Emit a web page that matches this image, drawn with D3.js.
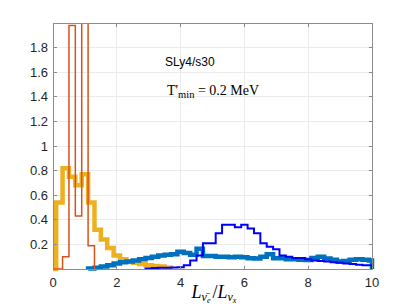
<!DOCTYPE html>
<html>
<head>
<meta charset="utf-8">
<script src="https://cdn.jsdelivr.net/npm/d3@7"></script>
<style>
  html, body { margin: 0; padding: 0; background: #fff; }
  svg { display: block; }
</style>
</head>
<body>
<script>
// ---- data ----
const binWidth = 0.2;
const xTicks = [0, 2, 4, 6, 8, 10];
const yTicks = [0.2, 0.4, 0.6, 0.8, 1.0, 1.2, 1.4, 1.6, 1.8];
const yTickLabels = ["0.2", "0.4", "0.6", "0.8", "1", "1.2", "1.4", "1.6", "1.8"];

// yellow thick histogram: bin centres and heights
const yellowCenters = [0, 0.2, 0.4, 0.6, 0.8, 1.0, 1.2, 1.4, 1.6, 1.8, 2.0, 2.2, 2.4, 2.6, 2.8, 3.0, 3.2, 3.4, 3.6];
const yellowValues  = [0, 0.54, 0.82, 0.75, 0.68, 0.77, 0.54, 0.32, 0.24, 0.17, 0.11, 0.08, 0.06, 0.05, 0.04, 0.03, 0.025, 0.02, 0.01];

// orange thin histogram
const orangeCenters = [0, 0.2, 0.4, 0.6, 0.8, 1.0, 1.2];
const orangeValues  = [0, 0, 0.10, 1.98, 0.43, 2.6, 0.19];

// light-blue thick histogram
const lblueCenters = [1.2, 1.4, 1.6, 1.8, 2.0, 2.2, 2.4, 2.6, 2.8, 3.0, 3.2, 3.4, 3.6, 3.8, 4.0, 4.2, 4.4, 4.6, 4.8, 5.0,
                      5.2, 5.4, 5.6, 5.8, 6.0, 6.2, 6.4, 6.6, 6.8, 7.0, 7.2, 7.4, 7.6, 7.8, 8.0, 8.2, 8.4, 8.6, 8.8, 9.0,
                      9.2, 9.4, 9.6, 9.8, 10.0];
const lblueValues  = [0.005, 0.01, 0.02, 0.03, 0.045, 0.055, 0.06, 0.07, 0.08, 0.09, 0.10, 0.11, 0.115, 0.12, 0.14, 0.13, 0.115, 0.165, 0.105, 0.105,
                      0.10, 0.10, 0.095, 0.10, 0.095, 0.087, 0.085, 0.10, 0.12, 0.087, 0.087, 0.08, 0.08, 0.075, 0.073, 0.09, 0.10, 0.085, 0.075, 0.06,
                      0.065, 0.075, 0.08, 0.075, 0.07];

// dark-blue thin histogram
const dblueCenters = [3.0, 3.2, 3.4, 3.6, 3.8, 4.0, 4.2, 4.4, 4.6, 4.8, 5.0, 5.2, 5.4, 5.6, 5.8, 6.0, 6.2, 6.4, 6.6, 6.8,
                      7.0, 7.2, 7.4, 7.6, 7.8, 8.0, 8.2, 8.4, 8.6, 8.8, 9.0, 9.2, 9.4, 9.6, 9.8, 10.0];
const dblueValues  = [0.005, 0.008, 0.01, 0.01, 0.012, 0.015, 0.03, 0.07, 0.11, 0.21, 0.21, 0.29, 0.36, 0.36, 0.34, 0.36, 0.33, 0.29, 0.21, 0.18,
                      0.16, 0.11, 0.10, 0.09, 0.09, 0.08, 0.07, 0.065, 0.06, 0.055, 0.05, 0.045, 0.04, 0.035, 0.03, 0.03];

// ---- layout ----
const W = 411, H = 308;
const m = { left: 53, right: 372, top: 23, bottom: 269 };

const x = d3.scaleLinear().domain([0, 10]).range([m.left, m.right]);
const y = d3.scaleLinear().domain([0, 2]).range([m.bottom, m.top]);

const svg = d3.select("body").append("svg").attr("width", W).attr("height", H);

svg.append("defs").append("clipPath").attr("id", "clip")
  .append("rect").attr("x", m.left - 6).attr("y", m.top)
  .attr("width", m.right - m.left + 12).attr("height", m.bottom - m.top + 6);

// grid
const grid = svg.append("g");
grid.selectAll("line.gx").data(xTicks.filter(t => t > 0 && t < 10)).join("line")
  .attr("x1", d => x(d)).attr("x2", d => x(d)).attr("y1", m.top).attr("y2", m.bottom)
  .attr("stroke", "#ebebeb").attr("stroke-width", 1).attr("shape-rendering", "crispEdges");
grid.selectAll("line.gy").data(yTicks).join("line")
  .attr("x1", m.left).attr("x2", m.right).attr("y1", d => y(d)).attr("y2", d => y(d))
  .attr("stroke", "#ebebeb").attr("stroke-width", 1).attr("shape-rendering", "crispEdges");

// histogram path builder
function stairs(centers, values) {
  const pts = [];
  const lo = Math.max(0, centers[0] - binWidth / 2);
  pts.push([lo, 0]);
  centers.forEach((c, i) => {
    const a = Math.max(0, c - binWidth / 2), b = Math.min(10, c + binWidth / 2);
    pts.push([a, values[i]]);
    pts.push([b, values[i]]);
  });
  const hi = Math.min(10, centers[centers.length - 1] + binWidth / 2);
  pts.push([hi, 0]);
  return d3.line().x(d => x(d[0])).y(d => y(d[1]))(pts);
}

const plot = svg.append("g").attr("clip-path", "url(#clip)");
plot.append("path").attr("d", stairs(yellowCenters, yellowValues))
  .attr("fill", "none").attr("stroke", "#EDB120").attr("stroke-width", 4.5).attr("stroke-linejoin", "miter");
plot.append("path").attr("d", stairs(lblueCenters, lblueValues))
  .attr("fill", "none").attr("stroke", "#0072BD").attr("stroke-width", 4.5).attr("stroke-linejoin", "miter");
plot.append("path").attr("d", stairs(orangeCenters, orangeValues))
  .attr("fill", "none").attr("stroke", "#D95319").attr("stroke-width", 1.5);
plot.append("path").attr("d", stairs(dblueCenters, dblueValues))
  .attr("fill", "none").attr("stroke", "#0000FF").attr("stroke-width", 2);

// axes box
const axisColor = "#8c8c8c";
const ax = svg.append("g").attr("stroke", axisColor).attr("stroke-width", 1).attr("shape-rendering", "crispEdges");
ax.append("rect").attr("x", m.left).attr("y", m.top).attr("width", m.right - m.left).attr("height", m.bottom - m.top)
  .attr("fill", "none");
const tl = 3.5;
xTicks.forEach(t => {
  ax.append("line").attr("x1", x(t)).attr("x2", x(t)).attr("y1", m.bottom).attr("y2", m.bottom - tl);
  ax.append("line").attr("x1", x(t)).attr("x2", x(t)).attr("y1", m.top).attr("y2", m.top + tl);
});
yTicks.forEach(t => {
  ax.append("line").attr("x1", m.left).attr("x2", m.left + tl).attr("y1", y(t)).attr("y2", y(t));
  ax.append("line").attr("x1", m.right).attr("x2", m.right - tl).attr("y1", y(t)).attr("y2", y(t));
});

// tick labels
const fontSans = "'Liberation Sans', Arial, Helvetica, sans-serif";
svg.append("g").selectAll("text").data(xTicks).join("text")
  .attr("x", d => x(d)).attr("y", 287).attr("text-anchor", "middle")
  .attr("font-family", fontSans).attr("font-size", 13).attr("fill", "#262626")
  .text(d => d);
svg.append("g").selectAll("text").data(yTicks).join("text")
  .attr("x", 48).attr("y", d => y(d) + 4.6).attr("text-anchor", "end")
  .attr("font-family", fontSans).attr("font-size", 13).attr("fill", "#262626")
  .text((d, i) => yTickLabels[i]);

// annotations
svg.append("text").attr("x", 165).attr("y", 66)
  .attr("font-family", fontSans).attr("font-size", 12).attr("fill", "#000")
  .text("SLy4/s30");

const fontSerif = "'DejaVu Serif', 'Liberation Serif', 'Times New Roman', serif";
const fontSerif2 = "'Liberation Serif', 'Times New Roman', serif";
const tt = svg.append("text").attr("x", 167).attr("y", 95)
  .attr("font-family", fontSerif2).attr("font-size", 14).attr("fill", "#000");
tt.append("tspan").text("T'");
tt.append("tspan").attr("font-size", 10.5).attr("dy", 2.5).text("min");
tt.append("tspan").attr("dy", -2.5).text(" = 0.2 MeV");

// x label
const xl = svg.append("text").attr("x", 214).attr("y", 298).attr("text-anchor", "middle")
  .attr("font-family", fontSerif2).attr("font-size", 18).attr("fill", "#000");
xl.append("tspan").attr("font-style", "italic").text("L");
xl.append("tspan").attr("font-style", "italic").attr("font-size", 12).attr("dy", 3).text("\u03BD\u0304");
xl.append("tspan").attr("font-style", "italic").attr("font-size", 8).attr("dy", 2).text("e");
xl.append("tspan").attr("dy", -5).attr("dx", 2).text("/");
xl.append("tspan").attr("font-style", "italic").text("L");
xl.append("tspan").attr("font-style", "italic").attr("font-size", 12).attr("dy", 3).text("\u03BD");
xl.append("tspan").attr("font-style", "italic").attr("font-size", 8).attr("dy", 2).text("x");
</script>
</body>
</html>
